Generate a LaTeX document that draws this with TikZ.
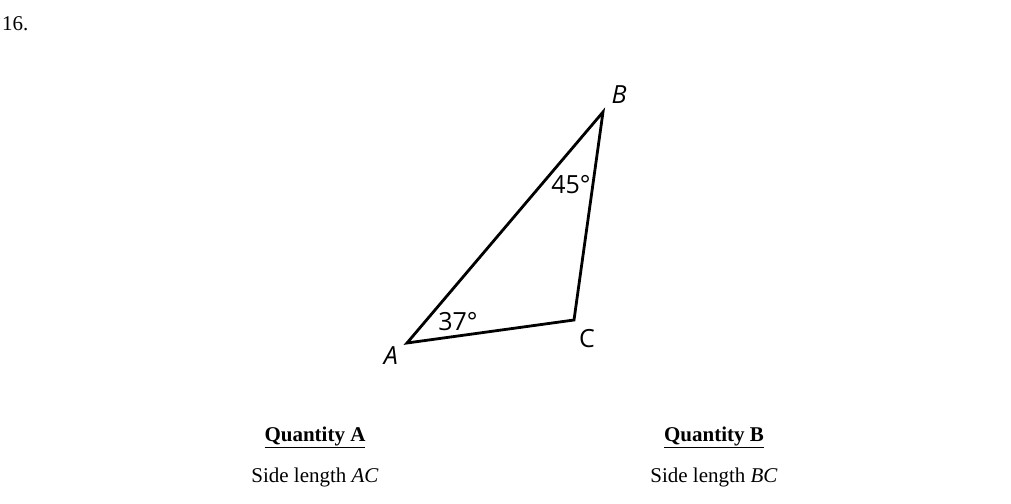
\documentclass[tikz,border=0pt]{standalone}
\usepackage{fontspec}
\setmainfont{Liberation Serif}
\newfontfamily\labfont{Open Sans}
\begin{document}
\begin{tikzpicture}[x=1pt,y=-1pt,
  txt/.style={inner sep=0pt,font=\fontsize{21}{25}\selectfont},
  lab/.style={inner sep=0pt,font=\labfont\fontsize{25}{28}\selectfont},
  side/.style={line width=2.8pt,line join=miter}]
\useasboundingbox (0,0) rectangle (1011,503);
\node[txt,anchor=west] (num) at (2,24) {16.};
\coordinate (A) at (407,343);
\coordinate (B) at (603,112);
\coordinate (C) at (574,320);
\draw[side] (A) -- (B) -- (C) -- cycle;
\node[lab] (lB) at (619,95) {\itshape B};
\node[lab] (lA) at (391,356) {\itshape A};
\node[lab] (lC) at (587,339) {C};
\node[lab] (a45) at (571,185) {45°};
\node[lab] (a37) at (458,322) {37°};
\node[txt] (qa) at (315,437) {\textbf{\underline{Quantity A}}};
\node[txt] (qb) at (714,437) {\textbf{\underline{Quantity B}}};
\node[txt] (sa) at (315,477) {Side length \textit{AC}};
\node[txt] (sb) at (714,477) {Side length \textit{BC}};
\end{tikzpicture}
\end{document}
